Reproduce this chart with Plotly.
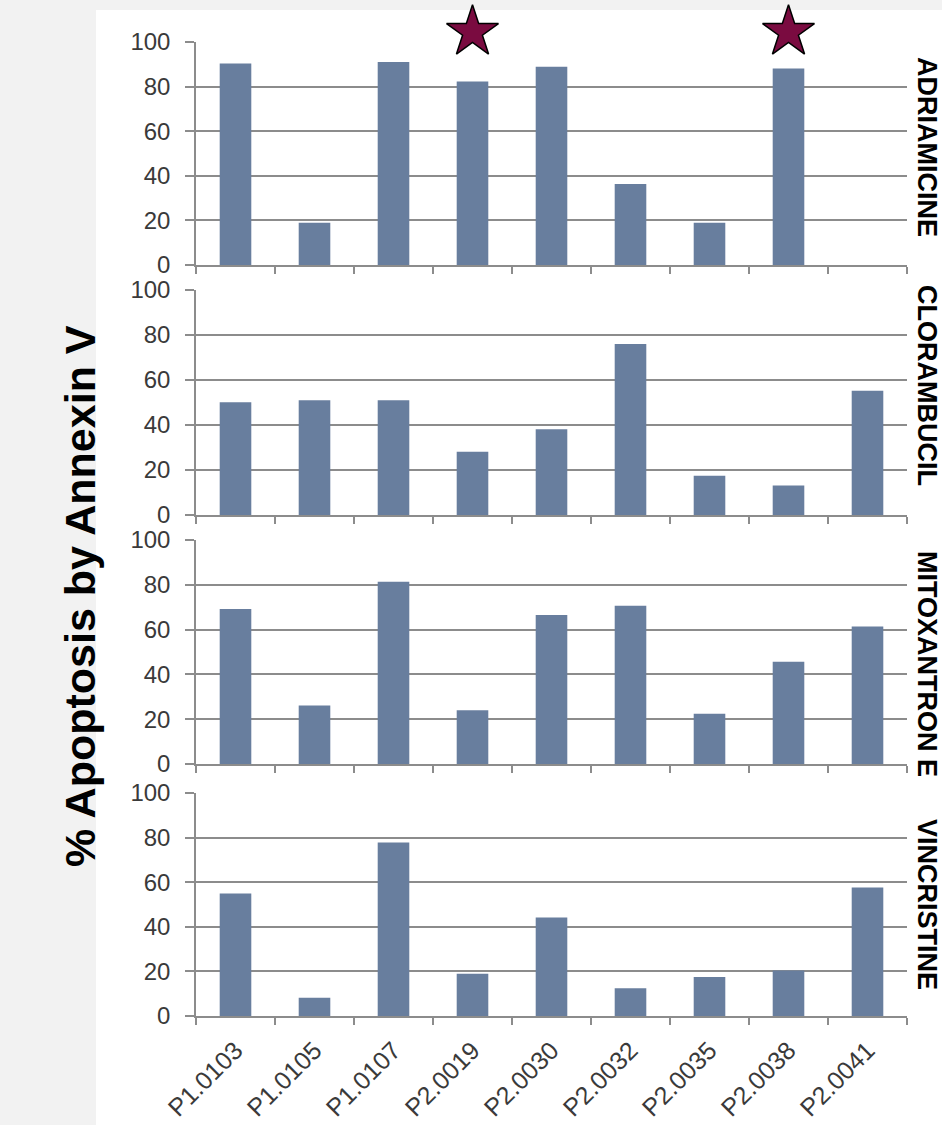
import plotly.graph_objects as go

# ---------------- data ----------------
categories = ["P1.0103", "P1.0105", "P1.0107", "P2.0019", "P2.0030",
              "P2.0032", "P2.0035", "P2.0038", "P2.0041"]
drugs = ["ADRIAMICINE", "CLORAMBUCIL", "MITOXANTRON E", "VINCRISTINE"]
adriamicine = [90.4, 18.9, 91.0, 82.3, 88.9, 36.3, 18.9, 88.1, None]
clorambucil = [50.1, 51.0, 51.0, 28.1, 38.1, 76.0, 17.4, 13.1, 55.2]
mitoxantrone = [69.2, 26.1, 81.4, 24.0, 66.5, 70.7, 22.4, 45.6, 61.4]
vincristine = [54.9, 8.2, 77.8, 18.9, 44.2, 12.4, 17.5, 20.4, 57.6]
starred = ["P2.0019", "P2.0038"]
y_ticks = [0, 20, 40, 60, 80, 100]
y_title = "% Apoptosis by Annexin V"

series = [adriamicine, clorambucil, mitoxantrone, vincristine]

# ---------------- layout constants ----------------
W, H = 942, 1125
L, R, T, B = 196, 35, 5, 109
plot_h = H - T - B
panels_px = [(42, 265), (290, 515), (540, 764), (793, 1016)]
star_band_px = (10, 54)
label_center_px = [147, 385, 664, 904]


def py(px):
    return (H - B - px) / plot_h


def pxx(px):
    return (px - L) / (W - L - R)


BAR = "#687E9E"
GRID = "#8C8C8C"
TICKTXT = "#3a3a3a"
SANS = "Liberation Sans, Arial, sans-serif"

fig = go.Figure()

layout = dict(
    width=W, height=H,
    margin=dict(l=L, r=R, t=T, b=B, pad=0),
    paper_bgcolor="#F2F2F2",
    plot_bgcolor="white",
    showlegend=False,
    template="none",
    font=dict(family=SANS, color=TICKTXT),
)

for i, (vals, (top, bot)) in enumerate(zip(series, panels_px), start=1):
    xa = "x" if i == 1 else f"x{i}"
    ya = "y" if i == 1 else f"y{i}"
    fig.add_trace(go.Bar(
        x=categories, y=vals, xaxis=xa, yaxis=ya,
        marker=dict(color=BAR, line=dict(width=0)),
        width=0.4,
    ))
    bottom = (i == len(series))
    layout[f"xaxis{'' if i == 1 else i}"] = dict(
        domain=[0, 1], anchor=ya, type="category",
        categoryorder="array", categoryarray=categories,
        range=[-0.5, len(categories) - 0.5],
        showline=True, linecolor=GRID, linewidth=1.5,
        ticks="outside", ticklen=7, tickwidth=1.5, tickcolor=GRID,
        tickson="boundaries", showgrid=False, zeroline=False,
        showticklabels=bottom, tickangle=-45,
        tickfont=dict(family=SANS, size=25, color=TICKTXT),
        ticklabelstandoff=8,
        automargin=False,
    )
    layout[f"yaxis{'' if i == 1 else i}"] = dict(
        domain=[py(bot), py(top)], anchor=xa,
        range=[0, 100], tickmode="array", tickvals=y_ticks,
        showgrid=True, gridcolor=GRID, gridwidth=1.5,
        showline=True, linecolor=GRID, linewidth=1.5,
        ticks="outside", ticklen=9, tickwidth=1.5, tickcolor=GRID,
        zeroline=False,
        tickfont=dict(family=SANS, size=24, color=TICKTXT),
        ticklabelstandoff=10,
        automargin=False,
    )

# stars over highlighted samples, in a thin invisible band above the top panel
layout["xaxis5"] = dict(
    domain=[0, 1], anchor="y5", type="category",
    categoryorder="array", categoryarray=categories,
    range=[-0.5, len(categories) - 0.5], visible=False,
)
layout["yaxis5"] = dict(
    domain=[py(star_band_px[1]), py(star_band_px[0])], anchor="x5",
    range=[0, 1], visible=False,
)
fig.add_trace(go.Scatter(
    x=starred, y=[0.5] * len(starred), xaxis="x5", yaxis="y5",
    mode="markers", cliponaxis=False,
    marker=dict(symbol="star", size=39, color="#7A0B40",
                line=dict(color="black", width=1.5)),
))

annotations = []
for name, cy in zip(drugs, label_center_px):
    annotations.append(dict(
        text=f"<b>{name}</b>", xref="paper", yref="paper",
        x=pxx(927), y=py(cy), xanchor="center", yanchor="middle",
        textangle=90, showarrow=False,
        font=dict(family=SANS, size=27, color="black"),
    ))
annotations.append(dict(
    text=f"<b>{y_title}</b>", xref="paper", yref="paper",
    x=pxx(80), y=py(596), xanchor="center", yanchor="middle",
    textangle=-90, showarrow=False,
    font=dict(family=SANS, size=43, color="black"),
))
layout["annotations"] = annotations

layout["shapes"] = [dict(
    type="rect", xref="paper", yref="paper", layer="below",
    x0=pxx(96), x1=pxx(W + 5), y0=py(H + 5), y1=py(10),
    fillcolor="white", line=dict(width=0),
)]

fig.update_layout(**layout)
fig.write_html("out.html",
               config={"displayModeBar": False},
               post_script="document.body.style.margin='0';"
                           "document.body.style.overflow='hidden';")
